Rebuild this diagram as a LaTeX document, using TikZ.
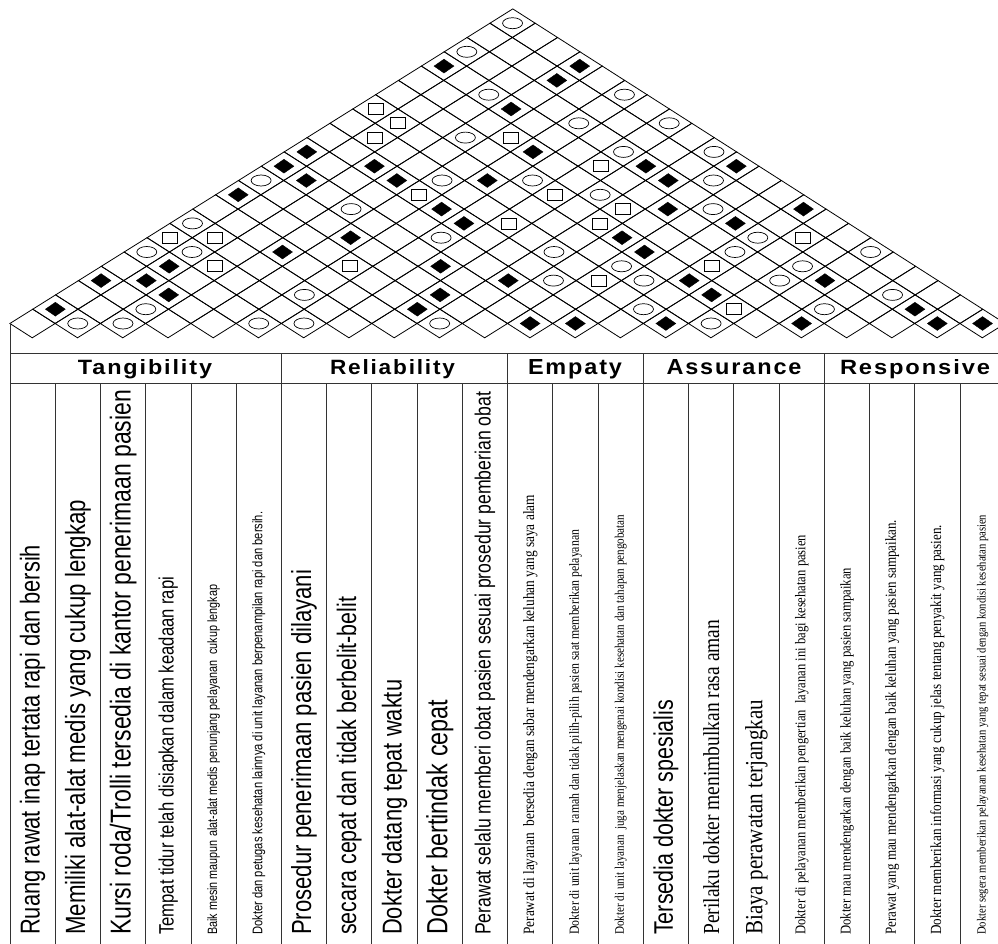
\documentclass[tikz,border=0pt]{standalone}
\usepackage{fontspec}
\setmainfont{Liberation Sans}
\newfontfamily\nsans[FakeStretch=0.8]{Liberation Sans}
\newfontfamily\nserif[FakeStretch=0.85]{Liberation Serif}
\newfontfamily\hdrfont[LetterSpace=8]{Liberation Sans Bold}
\usetikzlibrary{shapes.geometric}
\newcommand{\fitlen}[2]{\resizebox{#1pt}{!}{#2}}
\tikzset{
  gridline/.style={line width=0.8pt, black},
  tline/.style={line width=0.9pt, black!80},
  fdia/.style={diamond, fill=black, draw=black, line width=0.4pt, minimum width=20pt, minimum height=14pt, inner sep=0pt},
  ocirc/.style={ellipse, draw=black, line width=0.7pt, minimum width=20pt, minimum height=11pt, inner sep=0pt},
  osq/.style={rectangle, draw=black, line width=0.7pt, minimum width=15pt, minimum height=11pt, inner sep=0pt},
  coltxt/.style={rotate=90, anchor=west, inner sep=0pt},
  hdr/.style={inner sep=0pt, anchor=base}
}
\newcommand{\hd}[2]{\resizebox{#1pt}{15pt}{\hdrfont #2}}
\begin{document}
\begin{tikzpicture}[x=1pt,y=-1pt]
\useasboundingbox (0,0) rectangle (998,944);
% roof
\begin{scope}[xshift=32.5pt, yshift=-323.5pt, x={(22.62pt,0pt)}, y={(0.24pt,14.3pt)}]
\foreach \v in {0,...,21}{
  \pgfmathtruncatemacro\kmax{21-\v}
  \foreach \k in {0,...,\kmax}{
    \pgfmathtruncatemacro\u{\v+2*\k}
    \draw[gridline] (\u-1,\v) -- (\u,\v+1) -- (\u+1,\v) -- (\u,\v-1) -- cycle;
  }
}
\foreach \u/\v in {1/1,3/3,5/3,6/2,6/4,9/9,11/11,12/12,12/10,11/5,15/11,16/10,20/10,18/18,21/15,18/8,19/7,14/6,18/4,21/3,18/2,17/1,24/18,23/17,22/12,27/11,31/11,28/10,28/8,31/7,26/6,27/5,29/3,30/2,22/0,24/0,28/0,34/8,35/3,39/1,34/0,40/0,42/0}
  \node[fdia] (f\u-\v) at (\u,\v) {};
\foreach \u/\v in {2/0,4/0,5/1,5/5,7/7,7/5,10/10,10/0,12/0,12/2,19/19,20/16,19/13,18/10,14/8,18/6,18/0,21/21,26/16,24/14,28/14,26/12,30/12,22/10,30/10,25/9,30/8,32/6,23/5,31/5,26/4,23/3,27/3,27/1,30/0,37/5,34/4,33/3,35/1,38/2}
  \node[ocirc] (c\u-\v) at (\u,\v) {};
\foreach \u/\v in {6/6,8/6,8/4,15/15,16/14,15/13,21/13,17/9,14/4,21/7,25/11,23/9,26/8,25/7,30/4,25/3,31/1,34/6}
  \node[osq] (s\u-\v) at (\u,\v) {};
\end{scope}
% table frame
\draw[tline] (10,323) -- (10,944);
\draw[tline] (10,353) -- (1005,353);
\draw[tline] (10,383) -- (1005,383);
\foreach \k in {6,11,14,18}
  \draw[tline] ({10+45.24*\k},353) -- ({10+45.24*\k},944);
\foreach \k in {1,2,3,4,5,7,8,9,10,12,13,15,16,17,19,20,21}
  \draw[tline] ({10+45.24*\k},383) -- ({10+45.24*\k},944);
% headers
\node[hdr] (h1) at (145,374.5) {\hd{134}{Tangibility}};
\node[hdr] (h2) at (392.5,374.5) {\hd{125}{Reliability}};
\node[hdr] (h3) at (575,374.5) {\hd{94}{Empaty}};
\node[hdr] (h4) at (734,374.5) {\hd{135}{Assurance}};
\node[hdr] (h5) at (915,374.5) {\hd{150}{Responsive}};
% column texts
\newcommand{\cx}[1]{{10+45.24*(#1-0.5)}}
\node[coltxt] (t1) at (\cx{1},935) {\fitlen{390}{\nsans Ruang rawat inap tertata rapi dan bersih}};
\node[coltxt] (t2) at (\cx{2},935) {\fitlen{435}{\nsans Memiliki alat-alat medis yang cukup lengkap}};
\node[coltxt] (t3) at (\cx{3},935) {\fitlen{545}{\nsans Kursi roda/Trolli tersedia di kantor penerimaan pasien}};
\node[coltxt] (t4) at (\cx{4},935) {\fitlen{358}{\nsans Tempat tidur telah disiapkan dalam keadaan rapi}};
\node[coltxt] (t5) at (\cx{5},935) {\fitlen{350}{\nsans Baik mesin maupun alat-alat medis penunjang pelayanan\ \ cukup lengkap}};
\node[coltxt] (t6) at (\cx{6},935) {\fitlen{423}{\nsans Dokter dan petugas kesehatan lainnya di unit layanan berpenampilan rapi dan bersih.}};
\node[coltxt] (t7) at (\cx{7},935) {\fitlen{365}{\nsans Prosedur penerimaan pasien dilayani}};
\node[coltxt] (t8) at (\cx{8},935) {\fitlen{338}{\nsans secara cepat dan tidak berbelit-belit}};
\node[coltxt] (t9) at (\cx{9},935) {\fitlen{255}{\nsans Dokter datang tepat waktu}};
\node[coltxt] (t10) at (\cx{10},935) {\fitlen{235}{\nsans Dokter bertindak cepat}};
\node[coltxt] (t11) at (\cx{11},935) {\fitlen{543}{\nsans Perawat selalu memberi obat pasien sesuai prosedur pemberian obat}};
\node[coltxt] (t12) at (\cx{12},935) {\fitlen{440}{\nserif Perawat di layanan\ \ bersedia dengan sabar mendengarkan keluhan yang saya alam}};
\node[coltxt] (t13) at (\cx{13},935) {\fitlen{405}{\nserif Dokter di unit layanan\ \ ramah dan tidak pilih-pilih pasien saat memberikan pelayanan}};
\node[coltxt] (t14) at (\cx{14},935) {\fitlen{420}{\nserif Dokter di unit layanan\ \ juga menjelaskan mengenai kondisi kesehatan dan tahapan pengobatan}};
\node[coltxt] (t15) at (\cx{15},935) {\fitlen{235}{\nsans Tersedia dokter spesialis}};
\node[coltxt] (t16) at (\cx{16},935) {\fitlen{315}{\nserif Perilaku dokter menimbulkan rasa aman}};
\node[coltxt] (t17) at (\cx{17},935) {\fitlen{235}{\nserif Biaya perawatan terjangkau}};
\node[coltxt] (t18) at (\cx{18},935) {\fitlen{400}{\nserif Dokter di pelayanan memberikan pengertian\ \ layanan ini bagi kesehatan pasien}};
\node[coltxt] (t19) at (\cx{19},935) {\fitlen{367}{\nserif Dokter mau mendengarkan dengan baik keluhan yang pasien sampaikan}};
\node[coltxt] (t20) at (\cx{20},935) {\fitlen{415}{\nserif Perawat yang mau mendengarkan dengan baik keluhan yang pasien sampaikan.}};
\node[coltxt] (t21) at (\cx{21},935) {\fitlen{410}{\nserif Dokter memberikan informasi yang cukup jelas tentang penyakit yang pasien.}};
\node[coltxt] (t22) at (\cx{22},935) {\fitlen{420}{\nserif Dokter segera memberikan pelayanan kesehatan yang tepat sesuai dengan kondisi kesehatan pasien}};
\end{tikzpicture}
\end{document}
